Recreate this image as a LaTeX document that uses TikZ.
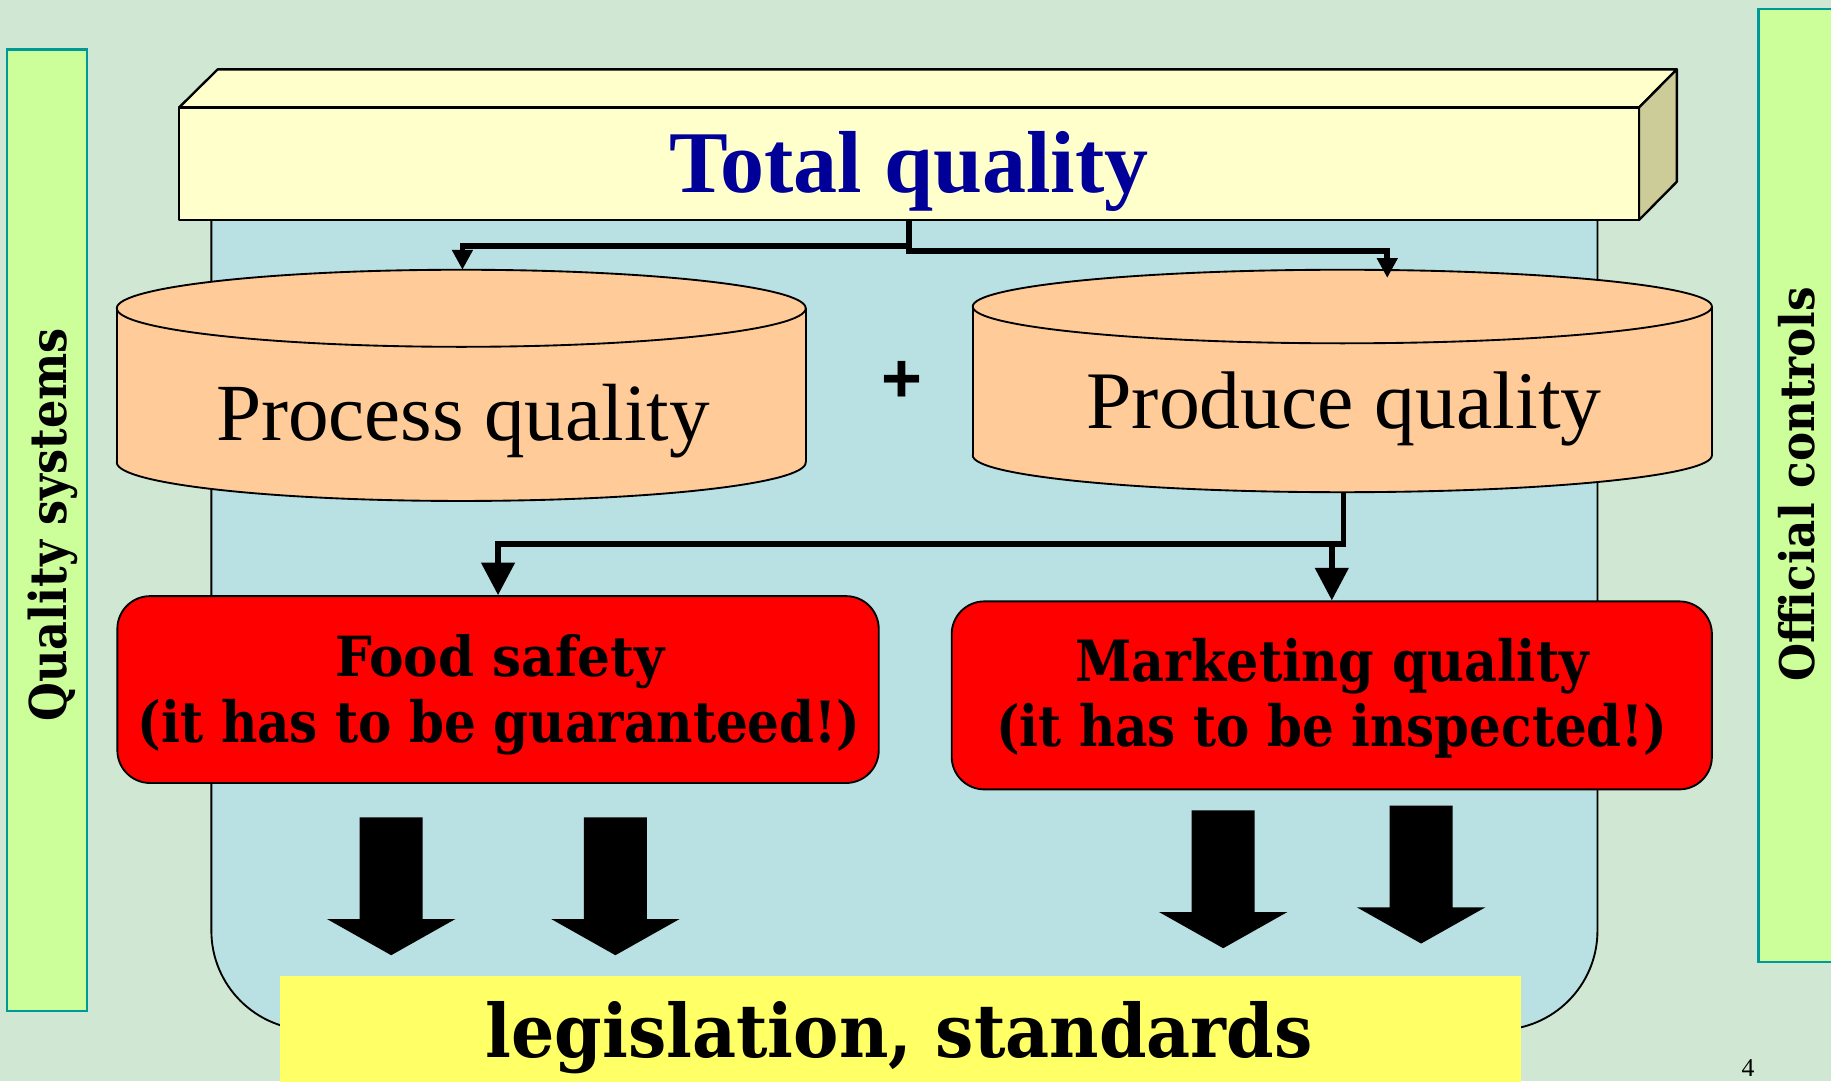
\documentclass[tikz,border=0pt]{standalone}
\usepackage{fontspec}
\usepackage{graphicx}
\setmainfont{Liberation Serif}
\newfontfamily\centfont{DejaVu Serif}
\newfontfamily\plusfont{Liberation Sans}
\usetikzlibrary{arrows.meta}
\definecolor{bgc}{RGB}{208,232,211}
\definecolor{barfill}{RGB}{204,255,153}
\definecolor{barline}{RGB}{0,153,153}
\definecolor{boxfill}{RGB}{255,255,204}
\definecolor{sidefill}{RGB}{204,204,153}
\definecolor{bluefill}{RGB}{185,224,227}
\definecolor{cylfill}{RGB}{255,204,153}
\definecolor{legfill}{RGB}{255,255,102}
\definecolor{navy}{RGB}{0,0,153}
\begin{document}
\begin{tikzpicture}[x=1pt,y=-1pt,
  conn/.style={line width=5pt,-{Triangle[length=28pt,width=28pt]}},
  connsm/.style={line width=5pt,-{Triangle[length=17pt,width=17pt]}},
  thinline/.style={line width=1.6pt,draw=black},
  bar/.style={fill=barfill,draw=barline,line width=1.8pt},
  cyl/.style={fill=cylfill,draw=black,line width=1.6pt},
  redbox/.style={fill=red,draw=black,line width=1.6pt,rounded corners=28pt,inner sep=0pt},
  boxface/.style={fill=boxfill,draw=black,line width=2pt,line join=round},
  blockarrow/.pic={\fill[black] (-27,0) -- (27,0) -- (27,87) -- (55,87) -- (0,118) -- (-55,87) -- (-27,87) -- cycle;},
  ctext/.style={anchor=base,inner sep=0pt}
]
\useasboundingbox (0,0) rectangle (1568,926);
\clip (0,0) rectangle (1568,926);
\fill[bgc] (0,0) rectangle (1568,926);

% side bars
\node[bar, anchor=north west, minimum width=68.6pt, minimum height=823.5pt, inner sep=0pt] (lbar) at (5,41.5) {};
\node[bar, anchor=north west, minimum width=90pt, minimum height=816pt, inner sep=0pt] (rbar) at (1505,7) {};

% light blue region
\filldraw[fill=bluefill, thinline, rounded corners=85pt] (181,150) -- (181,882) -- (1368,882) -- (1368,150);

% Total quality box
\filldraw[boxface] (153.4,92) -- (186.4,59.4) -- (1436,59.4) -- (1403.6,92) -- cycle;
\filldraw[boxface, fill=sidefill] (1403.6,92) -- (1436,59.4) -- (1436,155.6) -- (1403.6,188.4) -- cycle;
\node[boxface, minimum width=1250.2pt, minimum height=96.4pt, inner sep=0pt] (tq) at (778.5,140.2) {};
\node[ctext, text=navy, font=\fontsize{75.4}{80}\selectfont\bfseries] (tqt) at (778.5,165) {Total quality};

% Process quality cylinder
\filldraw[cyl] (395,396) ellipse [x radius=295, y radius=33];
\fill[cylfill] (100,264) rectangle (690,396);
\draw[thinline] (100,264) -- (100,396) (690,264) -- (690,396);
\filldraw[cyl] (395,264) ellipse [x radius=295, y radius=33];
\coordinate (pctop) at (396,231);
\node[ctext, font=\fontsize{69.5}{72}\selectfont] (pct) at (396.5,377) {Process quality};

% Produce quality cylinder
\filldraw[cyl] (1149.5,390) ellipse [x radius=316.5, y radius=31.5];
\fill[cylfill] (833,262.5) rectangle (1466,390);
\draw[thinline] (833,262.5) -- (833,390) (1466,262.5) -- (1466,390);
\filldraw[cyl] (1149.5,262.5) ellipse [x radius=316.5, y radius=31.5];
\coordinate (prtop) at (1188,238);
\coordinate (prbot) at (1150.5,421.5);
\node[ctext, font=\fontsize{70}{72}\selectfont] (prt) at (1151,367) {Produce quality};

\node[font=\plusfont\bfseries\fontsize{60}{60}\selectfont, inner sep=0pt] (plus) at (772.5,327.5) {+};

% connectors from Total quality
\draw[connsm] (tq.south) -- ++(0,21.3) -| (pctop);
\draw[connsm] (tq.south) -- ++(0,25.6) -| (prtop);

% red boxes
\node[redbox, minimum width=652pt, minimum height=160pt] (food) at (426.5,590.5) {};
\node[redbox, minimum width=651pt, minimum height=161pt] (mkt) at (1140.5,595.5) {};
\node[ctext] (fs1) at (428,579) {\resizebox{282pt}{36pt}{\centfont\bfseries Food safety}};
\node[ctext] (fs2) at (427.5,636) {\resizebox{619pt}{37pt}{\centfont\bfseries (it has to be guaranteed!)}};
\node[ctext] (mq1) at (1141,584) {\resizebox{440pt}{37pt}{\centfont\bfseries Marketing quality}};
\node[ctext] (mq2) at (1140.5,639) {\resizebox{575pt}{37pt}{\centfont\bfseries (it has to be inspected!)}};

% connectors from Produce quality
\draw[conn] (prbot) -- ++(0,44) -| (food.north);
\draw[conn] (prbot) -- ++(0,44) -| (mkt.north);

% block arrows
\pic (ba1) at (335,700) {blockarrow};
\pic (ba2) at (527,700) {blockarrow};
\pic (ba3) at (1047.5,694) {blockarrow};
\pic (ba4) at (1217,690) {blockarrow};

% legislation box
\node[fill=legfill, anchor=north west, minimum width=1062pt, minimum height=110pt, inner sep=0pt] (leg) at (240,836) {};
\node[ctext] (legt) at (770,906) {\resizebox{708pt}{48pt}{\centfont\bfseries legislation, standards}};

% side bar texts
\node[ctext, rotate=90] (qs) at (57,449.5) {\resizebox{337pt}{33pt}{\centfont\bfseries Quality systems}};
\node[ctext, rotate=90] (oc) at (1554,415) {\resizebox{338pt}{31pt}{\centfont\bfseries Official controls}};

% page number
\node[ctext, font=\fontsize{22}{22}\selectfont] (pg) at (1497,922) {4};
\end{tikzpicture}
\end{document}
